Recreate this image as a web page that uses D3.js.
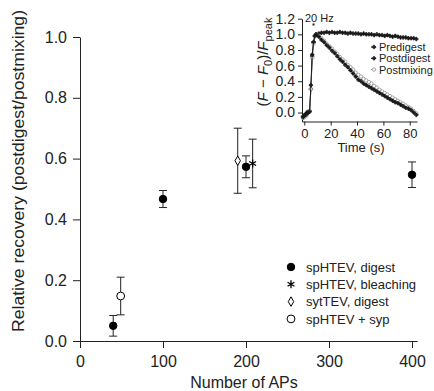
<!DOCTYPE html>
<html>
<head>
<meta charset="utf-8">
<script src="https://cdn.jsdelivr.net/npm/d3@7"></script>
<style>
  body { margin: 0; background: #fff; }
  svg { display: block; font-family: "Liberation Sans", Arial, sans-serif; }
  .axis path, .axis line { stroke: #222; }
  .axis text { fill: #222; }
</style>
</head>
<body>
<svg id="chart" width="434" height="391"></svg>
<script>
// main plot: relative recovery vs number of APs
const digestAPs = [40, 100, 200, 400];
const digestMean = [0.05, 0.467, 0.573, 0.547];
const digestErr = [0.034, 0.028, 0.036, 0.042];

const bleachAPs = [208];
const bleachMean = [0.584];
const bleachErr = [0.08];

const sytAPs = [190];
const sytMean = [0.593];
const sytErr = [0.107];

const sypAPs = [49];
const sypMean = [0.148];
const sypErr = [0.062];

const xTicks = [0, 100, 200, 300, 400];
const yTicks = [0, 0.2, 0.4, 0.6, 0.8, 1.0];
const legendLabels = ['spHTEV, digest', 'spHTEV, bleaching', 'sytTEV, digest', 'spHTEV + syp'];

// inset: normalized fluorescence traces
const insetTime = [-1, 0, 1, 2, 3, 4, 5, 6, 7, 8, 9, 11, 13, 15, 17, 19, 21, 23, 25, 27, 29, 31, 33, 35, 37, 39,
  41, 43, 45, 47, 49, 51, 53, 55, 57, 59, 61, 63, 65, 67, 69, 71, 73, 75, 77, 79, 81, 83, 85];
const predigest = [-0.05, -0.04, -0.02, 0.0, 0.01, 0.02, 0.3, 0.72, 0.9, 0.98, 1.0, 1.01, 1.02, 1.02, 1.03, 1.02, 1.03,
  1.02, 1.02, 1.03, 1.02, 1.02, 1.01, 1.02, 1.01, 1.01, 1.01, 1.0, 1.01, 1.0, 1.0, 1.0, 0.99, 1.0, 0.99, 0.99, 0.98,
  0.99, 0.98, 0.97, 0.98, 0.97, 0.96, 0.96, 0.96, 0.95, 0.95, 0.95, 0.94];
const postdigest = [-0.06, -0.04, -0.03, -0.01, 0.0, 0.01, 0.35, 0.74, 0.9, 0.98, 1.0, 0.97, 0.93, 0.9, 0.86, 0.83,
  0.79, 0.76, 0.72, 0.68, 0.65, 0.61, 0.58, 0.54, 0.5, 0.46, 0.42, 0.4, 0.37, 0.35, 0.33, 0.31, 0.29, 0.27, 0.25, 0.23,
  0.21, 0.19, 0.17, 0.15, 0.13, 0.12, 0.1, 0.08, 0.06, 0.05, 0.03, 0.0, -0.03];
const postmixing = [-0.07, -0.06, -0.05, -0.03, 0.0, 0.02, 0.3, 0.7, 0.88, 0.97, 1.0, 0.98, 0.95, 0.92, 0.88, 0.85,
  0.82, 0.78, 0.75, 0.71, 0.68, 0.65, 0.61, 0.58, 0.55, 0.51, 0.48, 0.46, 0.43, 0.41, 0.39, 0.37, 0.34, 0.32, 0.29,
  0.27, 0.25, 0.23, 0.21, 0.19, 0.17, 0.15, 0.13, 0.11, 0.09, 0.07, 0.05, 0.02, -0.01];
const insetXTicks = [0, 20, 40, 60, 80];
const insetYTicks = [0, 0.2, 0.4, 0.6, 0.8, 1.0, 1.2];
const insetLegend = ['Predigest', 'Postdigest', 'Postmixing'];
const stimTime = 7;

const svg = d3.select('#chart');
const ink = '#222';

const x = d3.scaleLinear().domain([0, 406]).range([80, 417]);
const y = d3.scaleLinear().domain([0, 1]).range([341, 37]);

// strip the axis group's own font settings so the svg font is used
function styleAxis(g, size) {
  g.attr('font-family', null).attr('font-size', null);
  g.selectAll('text').attr('font-size', size);
}

// axes
svg.append('g')
  .attr('class', 'axis')
  .attr('transform', `translate(0,${y(0)})`)
  .call(d3.axisBottom(x).tickValues(xTicks).tickFormat(d3.format('d')).tickSize(7).tickSizeOuter(0).tickPadding(8))
  .call(g => styleAxis(g, 16));

svg.append('g')
  .attr('class', 'axis')
  .attr('transform', `translate(${x(0)},0)`)
  .call(d3.axisLeft(y).tickValues(yTicks).tickFormat(d3.format('.1f')).tickSize(7).tickSizeOuter(0).tickPadding(6))
  .call(g => styleAxis(g, 16));

svg.append('text')
  .attr('x', 244).attr('y', 388)
  .attr('text-anchor', 'middle').attr('font-size', 16).attr('fill', ink)
  .text('Number of APs');

svg.append('text')
  .attr('transform', 'translate(24,171) rotate(-90)')
  .attr('text-anchor', 'middle').attr('font-size', 16).attr('fill', ink)
  .attr('textLength', 322).attr('lengthAdjust', 'spacingAndGlyphs')
  .text('Relative recovery (postdigest/postmixing)');

// error bars
function errorBars(xs, ms, es) {
  const g = svg.append('g').attr('stroke', ink).attr('stroke-width', 1);
  xs.forEach((v, i) => {
    const cx = x(v);
    g.append('line').attr('x1', cx).attr('x2', cx).attr('y1', y(ms[i] - es[i])).attr('y2', y(ms[i] + es[i]));
    g.append('line').attr('x1', cx - 4).attr('x2', cx + 4).attr('y1', y(ms[i] - es[i])).attr('y2', y(ms[i] - es[i]));
    g.append('line').attr('x1', cx - 4).attr('x2', cx + 4).attr('y1', y(ms[i] + es[i])).attr('y2', y(ms[i] + es[i]));
  });
}
errorBars(digestAPs, digestMean, digestErr);
errorBars(bleachAPs, bleachMean, bleachErr);
errorBars(sytAPs, sytMean, sytErr);
errorBars(sypAPs, sypMean, sypErr);

const markers = [
  { type: d3.symbolCircle, size: 44, fill: '#000', stroke: '#000', width: 1 },
  { type: d3.symbolAsterisk, size: 44, fill: 'none', stroke: '#000', width: 1.3 },
  { type: d3.symbolDiamond, size: 26, fill: '#fff', stroke: '#000', width: 1 },
  { type: d3.symbolCircle, size: 48, fill: '#fff', stroke: '#000', width: 1 }
];

function points(xs, ms, m) {
  svg.append('g').selectAll('path')
    .data(xs)
    .enter()
    .append('path')
    .attr('transform', (d, i) => `translate(${x(d)},${y(ms[i])})`)
    .attr('d', d3.symbol().type(m.type).size(m.size))
    .attr('fill', m.fill)
    .attr('stroke', m.stroke)
    .attr('stroke-width', m.width);
}
points(digestAPs, digestMean, markers[0]);
points(bleachAPs, bleachMean, markers[1]);
points(sytAPs, sytMean, markers[2]);
points(sypAPs, sypMean, markers[3]);

// legend
const legend = svg.append('g').attr('transform', 'translate(291,267)');
legendLabels.forEach((label, i) => {
  const row = legend.append('g').attr('transform', `translate(0,${i * 17.3})`);
  row.append('path')
    .attr('d', d3.symbol().type(markers[i].type).size(markers[i].size))
    .attr('fill', markers[i].fill)
    .attr('stroke', markers[i].stroke)
    .attr('stroke-width', markers[i].width);
  row.append('text')
    .attr('x', 15).attr('y', 4.6)
    .attr('font-size', 13).attr('fill', ink)
    .text(label);
});

// inset
const xi = d3.scaleLinear().domain([-1.75, 85.5]).range([302, 417]);
const yi = d3.scaleLinear().domain([-0.115, 1.2]).range([121.5, 18.7]);

svg.append('g')
  .attr('class', 'axis')
  .attr('transform', `translate(0,${yi.range()[0]})`)
  .call(d3.axisBottom(xi).tickValues(insetXTicks).tickSize(4).tickSizeOuter(0).tickPadding(3))
  .call(g => styleAxis(g, 13));

svg.append('g')
  .attr('class', 'axis')
  .attr('transform', `translate(${xi.range()[0]},0)`)
  .call(d3.axisLeft(yi).tickValues(insetYTicks).tickFormat(d3.format('.1f')).tickSize(4).tickSizeOuter(0).tickPadding(3))
  .call(g => styleAxis(g, 14));

svg.append('text')
  .attr('x', 361).attr('y', 152)
  .attr('text-anchor', 'middle').attr('font-size', 13).attr('fill', ink)
  .text('Time (s)');

const ylab = svg.append('text')
  .attr('transform', 'translate(268,62) rotate(-90)')
  .attr('text-anchor', 'middle').attr('font-size', 15).attr('fill', ink);
ylab.append('tspan').text('(');
ylab.append('tspan').attr('font-style', 'italic').text('F');
ylab.append('tspan').text(' \u2212 ');
ylab.append('tspan').attr('font-style', 'italic').text('F');
ylab.append('tspan').attr('font-size', 11).attr('dy', 4).text('0');
ylab.append('tspan').attr('dy', -4).text(')/');
ylab.append('tspan').attr('font-style', 'italic').text('F');
ylab.append('tspan').attr('font-size', 11).attr('dy', 4).text('peak');

svg.append('text')
  .attr('x', 305).attr('y', 21.5)
  .attr('font-size', 11).attr('fill', ink)
  .text('20 Hz');
svg.append('rect')
  .attr('x', xi(stimTime) - 1).attr('y', 23.5)
  .attr('width', 2).attr('height', 2)
  .attr('fill', ink);

const line = d3.line().x((d, i) => xi(insetTime[i])).y(d => yi(d));

const traces = [
  { values: predigest, color: '#1a1a1a', sym: d3.symbolCross, size: 7, fill: '#1a1a1a' },
  { values: postmixing, color: '#8a8a8a', sym: d3.symbolCircle, size: 9, fill: '#fff' },
  { values: postdigest, color: '#1a1a1a', sym: d3.symbolCross, size: 7, fill: '#1a1a1a' }
];

traces.forEach(t => {
  svg.append('path')
    .datum(t.values)
    .attr('d', line)
    .attr('fill', 'none')
    .attr('stroke', t.color)
    .attr('stroke-width', 1);
  svg.append('g').selectAll('path')
    .data(t.values)
    .enter()
    .append('path')
    .attr('transform', (d, i) => `translate(${xi(insetTime[i])},${yi(d)})`)
    .attr('d', d3.symbol().type(t.sym).size(t.size))
    .attr('fill', t.fill)
    .attr('stroke', t.color)
    .attr('stroke-width', 0.7);
});

const insetKeys = [traces[0], traces[2], traces[1]];
const ileg = svg.append('g').attr('transform', 'translate(374,47)');
insetLegend.forEach((label, i) => {
  const row = ileg.append('g').attr('transform', `translate(0,${i * 11.3})`);
  row.append('line').attr('x1', -3).attr('x2', 2).attr('stroke', insetKeys[i].color);
  row.append('path')
    .attr('d', d3.symbol().type(insetKeys[i].sym).size(insetKeys[i].size))
    .attr('fill', insetKeys[i].fill)
    .attr('stroke', insetKeys[i].color)
    .attr('stroke-width', 0.7);
  row.append('text')
    .attr('x', 5).attr('y', 4)
    .attr('font-size', 11).attr('fill', ink)
    .text(label);
});
</script>
</body>
</html>
